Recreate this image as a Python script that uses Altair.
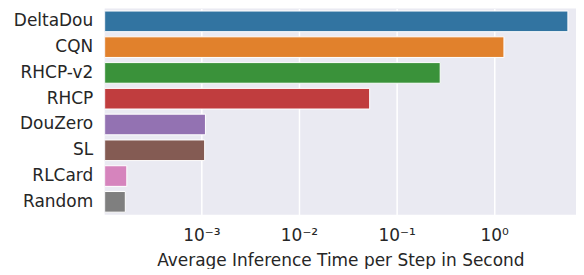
import altair as alt
import pandas as pd

methods = ["DeltaDou", "CQN", "RHCP-v2", "RHCP", "DouZero", "SL", "RLCard", "Random"]
times = [5.7, 1.26, 0.28, 0.053, 0.0011, 0.00108, 0.000172, 0.000166]
colors = ["#3274a1", "#e1812c", "#3a923a", "#c03d3e", "#9372b2", "#845b53", "#d684bd", "#7f7f7f"]
tick_values = [0.001, 0.01, 0.1, 1.0]
tick_labels = ["10⁻³", "10⁻²", "10⁻¹", "10⁰"]
x_min, x_max = 1.02e-4, 6.9

df = pd.DataFrame({"method": methods, "time": times, "base": [x_min] * len(methods)})

label_expr = " : ".join(
    f"datum.value == {v} ? '{l}'" for v, l in zip(tick_values, tick_labels)
) + " : ''"

chart = (
    alt.Chart(df)
    .mark_bar(stroke="white", strokeWidth=1, clip=True)
    .encode(
        y=alt.Y(
            "method:N",
            sort=methods,
            title=None,
            scale=alt.Scale(paddingInner=0.2, paddingOuter=0.1),
            axis=alt.Axis(
                ticks=False, domain=False, grid=False, labelPadding=12,
                labelFontSize=17, labelColor="#262626", labelFont="DejaVu Sans",
            ),
        ),
        x=alt.X(
            "time:Q",
            title="Average Inference Time per Step in Second",
            scale=alt.Scale(type="log", domain=[x_min, x_max], nice=False),
            axis=alt.Axis(
                values=tick_values, labelExpr=label_expr, ticks=False, domain=False,
                grid=True, gridColor="white", gridWidth=1.5, labelPadding=13,
                labelFontSize=17, labelColor="#262626", labelFont="DejaVu Sans",
                titleFontSize=17, titleFont="DejaVu Sans", titleColor="#262626",
                titleFontWeight="normal", titlePadding=9,
            ),
        ),
        x2="base:Q",
        color=alt.Color("method:N", sort=methods,
                        scale=alt.Scale(domain=methods, range=colors), legend=None),
    )
    .properties(width=473, height=207, padding={"left": 5, "top": 0, "right": 0, "bottom": 0})
    .configure_view(fill="#EAEAF2", stroke=None)
)

chart.save("out.html", embed_options={"renderer": "svg", "actions": False})
